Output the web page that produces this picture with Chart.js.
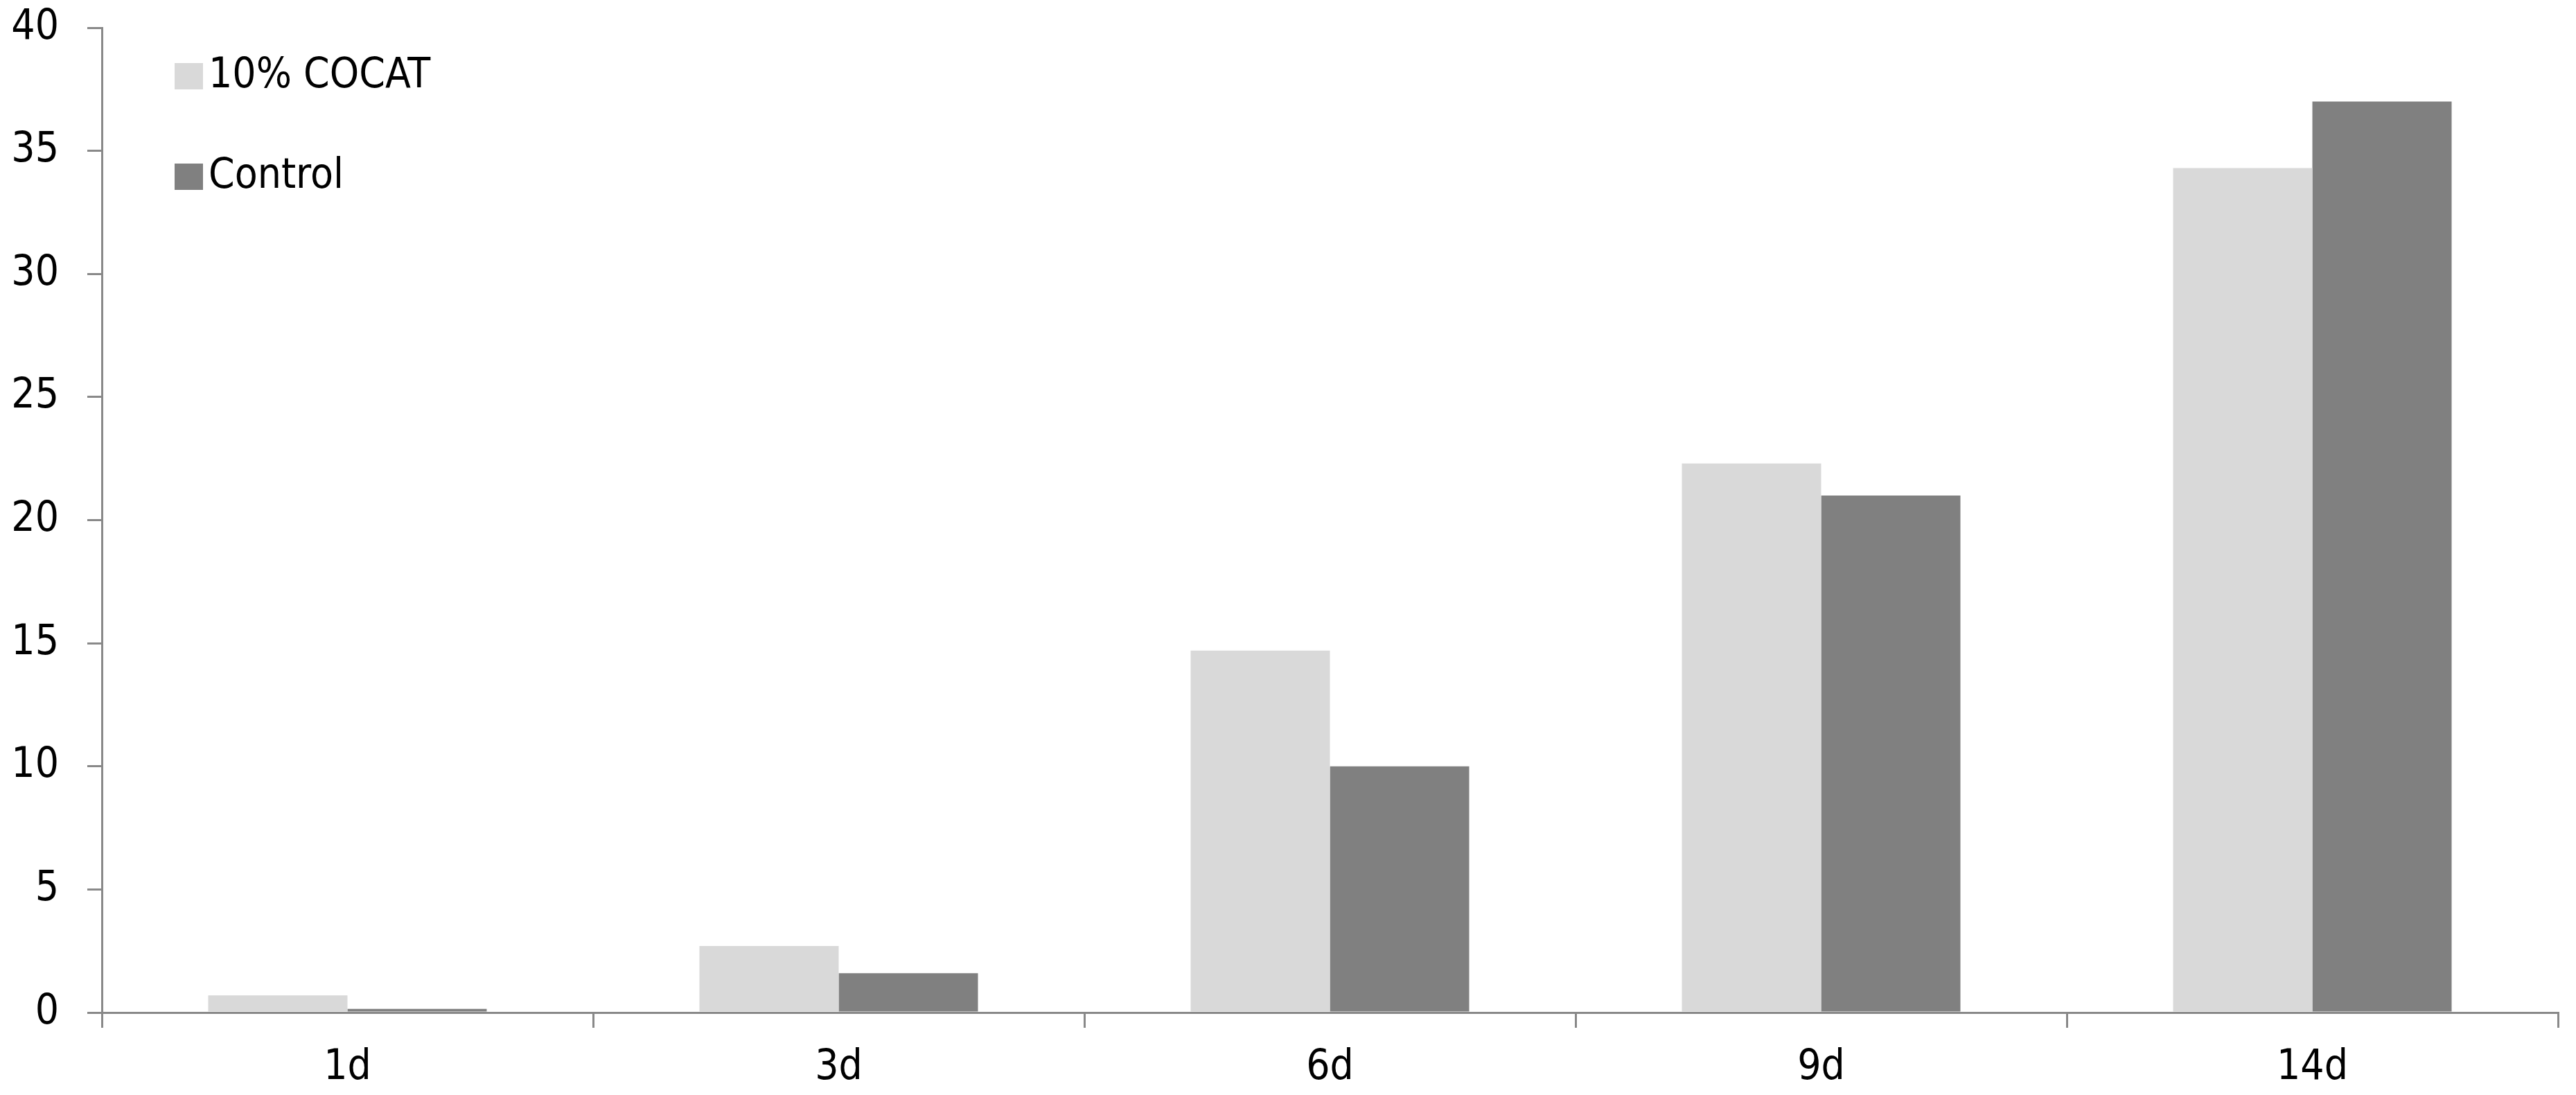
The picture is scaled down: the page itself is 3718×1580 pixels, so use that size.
<!DOCTYPE html>
<html>
<head>
<meta charset="utf-8">
<script src="https://cdn.jsdelivr.net/npm/chart.js@4.4.1/dist/chart.umd.min.js"></script>
<style>
  html, body { margin: 0; padding: 0; background: #fff; }
  #wrap { width: 3718px; height: 1580px; }
</style>
</head>
<body>
<div id="wrap"><canvas id="chart" width="3718" height="1580"></canvas></div>
<script>
// values
const days = ["1d", "3d", "6d", "9d", "14d"];
const cocat = [0.7, 2.7, 14.7, 22.3, 34.3];
const control = [0.15, 1.6, 10.0, 21.0, 37.0];
const yMin = 0, yMax = 40, yStep = 5;

const axisColor = "#898989";
const fontFamily = '"DejaVu Sans Condensed", "Liberation Sans", Arial, sans-serif';
const tickFont = { family: fontFamily, size: 60 };

// legend drawn inside the plot, stacked vertically like the original
const insideLegend = {
  id: "insideLegend",
  afterDraw(chart) {
    const ctx = chart.ctx;
    const area = chart.chartArea;
    ctx.save();
    chart.data.datasets.forEach((ds, i) => {
      const y = area.top + 70 + i * 145;
      ctx.fillStyle = ds.backgroundColor;
      ctx.fillRect(area.left + 105, y - 19, 41, 38);
      ctx.fillStyle = "#000";
      ctx.font = tickFont.size + "px " + fontFamily;
      ctx.textBaseline = "middle";
      ctx.textAlign = "left";
      ctx.fillText(ds.label, area.left + 154, y);
    });
    ctx.restore();
  }
};

function noPad(scale) {
  scale.paddingTop = 0;
  scale.paddingBottom = 0;
  scale.paddingLeft = 0;
  scale.paddingRight = 0;
}

const ctx = document.getElementById("chart").getContext("2d");
const chart = new Chart(ctx, {
  type: "bar",
  data: {
    labels: days,
    datasets: [
      {
        label: "10% COCAT",
        data: cocat,
        backgroundColor: "#d9d9d9",
        borderWidth: 0,
      },
      {
        label: "Control",
        data: control,
        backgroundColor: "#808080",
        borderWidth: 0,
      },
    ],
  },
  options: {
    responsive: false,
    animation: false,
    devicePixelRatio: 1,
    layout: { padding: { top: 40, right: 26, left: 0, bottom: 0 } },
    datasets: {
      bar: { categoryPercentage: 0.567, barPercentage: 1.0 },
    },
    plugins: {
      legend: { display: false },
      tooltip: { enabled: false },
    },
    scales: {
      x: {
        offset: true,
        grid: {
          display: true,
          offset: true,
          drawOnChartArea: false,
          drawTicks: true,
          tickLength: 22,
          color: axisColor,
          lineWidth: 3,
        },
        border: { display: true, color: axisColor, width: 3 },
        ticks: { font: tickFont, color: "#000", padding: 22, maxRotation: 0 },
        afterFit(scale) { scale.height = 119; noPad(scale); },
      },
      y: {
        min: yMin,
        max: yMax,
        grid: {
          display: true,
          drawOnChartArea: false,
          drawTicks: true,
          tickLength: 21,
          color: axisColor,
          lineWidth: 3,
        },
        border: { display: true, color: axisColor, width: 3 },
        ticks: { stepSize: yStep, font: tickFont, color: "#000", padding: 41 },
        afterFit(scale) { scale.width = 147; noPad(scale); },
      },
    },
  },
  plugins: [insideLegend],
});
</script>
</body>
</html>
